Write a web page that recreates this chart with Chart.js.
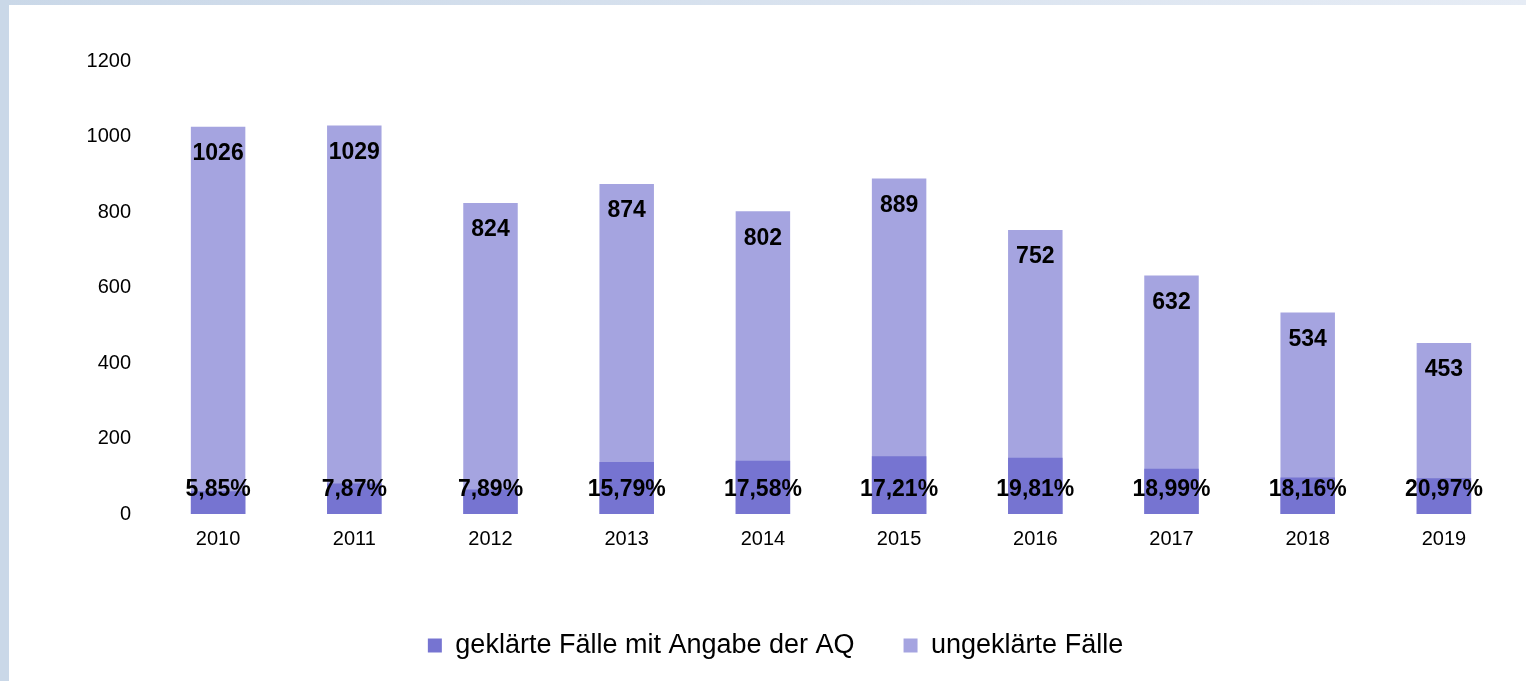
<!DOCTYPE html>
<html>
<head>
<meta charset="utf-8">
<script src="https://cdn.jsdelivr.net/npm/chart.js@4/dist/chart.umd.min.js"></script>
<style>
  html, body { margin: 0; padding: 0; background: #fff; }
  body { width: 1526px; height: 681px; position: relative; overflow: hidden; }
  .frameLeft { position: absolute; left: 0; top: 0; width: 9px; height: 681px; background: #cad8e8; }
  .frameTop { position: absolute; left: 0; top: 0; width: 1526px; height: 5px;
              background: linear-gradient(to right, #cad8e8, #e6ecf5); }
  .wrap { position: absolute; left: 9px; top: 5px; width: 1517px; height: 676px; }
</style>
</head>
<body>
<div class="frameTop"></div>
<div class="frameLeft"></div>
<div class="wrap"><canvas id="chart"></canvas></div>
<script>
// values
const years = ['2010', '2011', '2012', '2013', '2014', '2015', '2016', '2017', '2018', '2019'];
const totalCases = [1026, 1029, 824, 874, 802, 889, 752, 632, 534, 453];
const clearedCases = [60, 81, 65, 138, 141, 153, 149, 120, 97, 95];
const clearedPct = ['5,85%', '7,87%', '7,89%', '15,79%', '17,58%', '17,21%', '19,81%', '18,99%', '18,16%', '20,97%'];
const yTicks = [0, 200, 400, 600, 800, 1000, 1200];

const fontFamily = '"Liberation Sans", Arial, sans-serif';

// labels inside the bars
const barLabels = {
    id: 'barLabels',
    afterDatasetsDraw(chart) {
        const ctx = chart.ctx;
        const yScale = chart.scales.y;
        const base = yScale.getPixelForValue(0);
        ctx.save();
        ctx.fillStyle = '#000';
        ctx.textAlign = 'center';
        ctx.textBaseline = 'middle';

        ctx.font = 'bold 23px ' + fontFamily;
        chart.getDatasetMeta(1).data.forEach((bar, i) => {
            ctx.fillText(String(totalCases[i]), bar.x, bar.y + 27);
        });

        ctx.font = 'bold 23px ' + fontFamily;
        chart.getDatasetMeta(0).data.forEach((bar, i) => {
            ctx.fillText(clearedPct[i], bar.x, base - 24);
        });
        ctx.restore();
    }
};

const ctx = document.getElementById('chart').getContext('2d');
new Chart(ctx, {
    type: 'bar',
    data: {
        labels: years,
        datasets: [
            {
                label: 'geklärte Fälle mit Angabe der AQ',
                data: clearedCases,
                backgroundColor: '#7674d1',
                grouped: false,
                categoryPercentage: 1,
                barPercentage: 0.4
            },
            {
                label: 'ungeklärte Fälle',
                data: totalCases,
                backgroundColor: '#a5a4e0',
                grouped: false,
                categoryPercentage: 1,
                barPercentage: 0.4
            }
        ]
    },
    options: {
        responsive: true,
        maintainAspectRatio: false,
        animation: false,
        layout: {
            padding: { top: 56, left: 30, right: 14, bottom: 12 }
        },
        scales: {
            x: {
                grid: { display: false, drawTicks: false },
                border: { display: false },
                ticks: {
                    color: '#000',
                    padding: 13,
                    font: { family: fontFamily, size: 20 }
                },
                afterFit(scale) { scale.height = 69; }
            },
            y: {
                min: 0,
                max: 1200,
                grid: { display: false, drawTicks: false },
                border: { display: false },
                afterBuildTicks(scale) {
                    scale.ticks = yTicks.map(v => ({ value: v }));
                },
                ticks: {
                    color: '#000',
                    padding: 19,
                    font: { family: fontFamily, size: 20 },
                    callback: function(value) {
                        return String(value);
                    }
                },
                afterFit(scale) { scale.width = 111; }
            }
        },
        plugins: {
            legend: {
                display: true,
                position: 'bottom',
                labels: {
                    color: '#000',
                    boxWidth: 14,
                    boxHeight: 14,
                    padding: 49,
                    font: { family: fontFamily, size: 27 }
                }
            },
            tooltip: { enabled: false }
        }
    },
    plugins: [barLabels]
});
</script>
</body>
</html>
